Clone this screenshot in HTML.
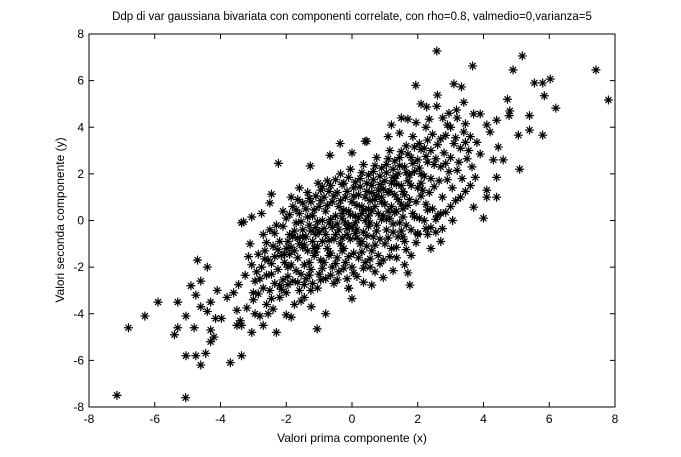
<!DOCTYPE html>
<html><head><meta charset="utf-8"><style>
body{margin:0;background:#fff}
svg{display:block;font-family:"Liberation Sans",Arial,sans-serif}
</style></head><body>
<svg id="chart" width="681" height="457" viewBox="0 0 681 457">
<rect x="0" y="0" width="681" height="457" fill="#fff"/>
<text x="352" y="20" text-anchor="middle" font-size="11.5">Ddp di var gaussiana bivariata con componenti correlate, con rho=0.8, valmedio=0,varianza=5</text>
<g id="ticks"></g>
<g id="marks"></g>
<rect x="89" y="34" width="526" height="373" fill="none" stroke="#000" stroke-width="1"/>
<text x="352" y="442" text-anchor="middle" font-size="12">Valori prima componente (x)</text>
<text x="0" y="0" transform="translate(64,220) rotate(-90)" text-anchor="middle" font-size="12">Valori seconda componente (y)</text>
</svg>
<script>
const xTicks=[-8,-6,-4,-2,0,2,4,6,8];
const yTicks=[-8,-6,-4,-2,0,2,4,6,8];
const outlierPoints=[[-7.15,-7.5],[-5.06,-7.6],[-6.8,-4.6],[-6.3,-4.1],[-5.9,-3.5],[-5.3,-3.5],[-5.05,-4.1],[-5.4,-4.9],[-5.3,-4.6],[-4.8,-4.6],[-5.05,-5.8],[-4.75,-5.8],[-4.6,-6.2],[-4.45,-5.7],[-4.3,-5.2],[-4.2,-5.0],[-4.3,-4.7],[-4.4,-3.9],[-4.6,-3.7],[-4.3,-3.5],[-4.75,-3.2],[-4.9,-2.8],[-4.7,-1.7],[-4.4,-2.0],[-4.6,-2.6],[-4.15,-4.2],[-3.97,-4.2],[-4.1,-3.0],[-3.8,-3.3],[-3.5,-4.5],[-3.36,-4.5],[-3.05,-4.8],[-2.7,-4.5],[-2.3,-4.8],[-1.06,-4.65],[-3.36,-0.1],[-3.5,-3.85],[-3.4,-4.3],[-2.8,-4.1],[-2.55,-4.0],[-2.0,-4.05],[-1.85,-4.15],[-1.24,-3.7],[-0.8,-4.0],[0.0,-3.35],[-0.1,-2.9],[-3.36,-5.8],[-3.7,-6.1],
[2.58,7.27],[5.18,7.06],[3.67,6.63],[4.9,6.46],[7.42,6.46],[7.8,5.17],[1.94,5.8],[3.1,5.86],[3.33,5.73],[5.55,5.9],[5.8,5.9],[6.03,6.07],[5.85,5.35],[6.2,4.82],[2.6,5.38],[4.73,5.2],[2.1,5.0],[2.27,4.87],[2.58,4.9],[3.4,5.07],[3.18,4.74],[3.7,4.57],[3.9,4.57],[4.8,4.7],[4.78,4.5],[5.4,4.5],[4.4,4.3],[5.4,3.88],[5.06,3.66],[5.8,3.66],[5.1,2.2],[4.6,2.6],[4.4,1.0],[4.0,0.1],[1.5,4.4],[1.7,4.35],[1.2,4.1],[1.1,3.6],[2.76,4.4],[2.9,4.1],[4.1,4.1],[4.2,3.8],[4.45,3.15],[4.3,2.6],[4.4,1.85],[4.1,1.3],[4.1,1.0],[3.06,0.0],[2.6,0.2],[3.7,0.57],[0.45,3.4],[0.0,2.9],
[1.76,-2.77],[1.7,-2.25],[1.8,-1.5],[1.6,-1.9],[1.36,-1.6],[0.7,-2.2],[0.6,-2.77],[-0.1,-2.9],[2.7,-0.9],[2.0,-0.55],[2.3,-0.6],[2.55,-0.5],[1.55,-0.7],[-2.24,2.45],[-1.27,2.34],[-2.45,1.13],[-1.6,1.4],[-1.85,1.0],[-3.3,-0.06],[-0.36,3.3],[-0.67,2.8],[-1.03,1.6],[0.4,3.4]];
const corePoints=[[-3.0,-3.4],[-2.95,-2.6],[-3.05,-1.9],[-2.9,-2.2],[-3.1,-1.0],[-3.0,-3.1],
[-2.7,-2.9],[-2.75,-2.0],[-2.65,-1.3],[-2.7,-0.6],[-2.8,-2.5],[-2.6,-3.6],
[-2.5,-3.0],[-2.45,-2.3],[-2.55,-1.7],[-2.4,-1.1],[-2.5,-0.4],[-2.35,-2.7],
[-2.2,-2.8],[-2.25,-2.1],[-2.15,-1.5],[-2.2,-0.9],[-2.3,-0.2],[-2.1,0.4],[-2.2,-3.3],
[-2.0,-3.1],[-1.95,-2.4],[-2.05,-1.8],[-2.0,-1.2],[-1.9,-0.6],[-2.0,0.1],[-1.95,-2.0],
[-1.8,-2.6],[-1.85,-1.9],[-1.75,-1.3],[-1.8,-0.7],[-1.7,-0.1],[-1.8,0.6],[-1.75,-3.6],
[-1.6,-3.0],[-1.55,-2.3],[-1.65,-1.6],[-1.6,-1.0],[-1.5,-0.4],[-1.6,0.3],[-1.65,0.9],
[-1.4,-2.5],[-1.45,-1.9],[-1.35,-1.3],[-1.4,-0.7],[-1.3,-0.2],[-1.4,0.5],[-1.45,-3.3],[-1.35,1.2],
[-1.2,-2.7],[-1.25,-2.1],[-1.15,-1.5],[-1.2,-0.9],[-1.1,-0.3],[-1.2,0.2],[-1.25,0.8],[-1.15,-1.2],
[-1.0,-2.3],[-0.95,-1.7],[-1.05,-1.1],[-1.0,-0.5],[-0.9,0.0],[-1.0,0.6],[-0.95,1.3],[-1.05,-2.9],
[-0.8,-2.5],[-0.85,-1.8],[-0.75,-1.2],[-0.8,-0.6],[-0.7,-0.1],[-0.8,0.4],[-0.85,1.0],[-0.75,1.7],
[-0.6,-2.0],[-0.65,-1.4],[-0.55,-0.8],[-0.6,-0.3],[-0.5,0.2],[-0.6,0.8],[-0.65,1.5],[-0.55,-2.7],
[-0.4,-2.2],[-0.45,-1.6],[-0.35,-1.0],[-0.4,-0.4],[-0.3,0.1],[-0.4,0.6],[-0.45,1.2],[-0.35,2.0],
[-0.2,-1.8],[-0.25,-1.2],[-0.15,-0.6],[-0.2,-0.1],[-0.1,0.4],[-0.2,1.0],[-0.25,1.6],[-0.15,-2.5],
[0.0,-2.0],[0.05,-1.4],[-0.05,-0.8],[0.0,-0.3],[0.1,0.2],[0.0,0.8],[0.05,1.4],[-0.05,2.2],
[0.2,-1.6],[0.25,-1.0],[0.15,-0.4],[0.2,0.1],[0.3,0.6],[0.2,1.1],[0.25,1.8],[0.15,-2.4],
[0.4,-1.8],[0.45,-1.1],[0.35,-0.5],[0.4,0.0],[0.5,0.5],[0.4,1.0],[0.45,1.6],[0.35,2.4],
[0.6,-1.3],[0.65,-0.7],[0.55,-0.1],[0.6,0.4],[0.7,0.9],[0.6,1.5],[0.65,2.1],[0.55,-2.0],
[0.8,-1.5],[0.85,-0.8],[0.75,-0.2],[0.8,0.3],[0.9,0.8],[0.8,1.3],[0.85,1.9],[0.75,2.7],
[1.0,-1.0],[1.05,-0.4],[0.95,0.2],[1.0,0.7],[1.1,1.2],[1.0,1.7],[1.05,2.4],[0.95,-1.7],
[1.2,-1.2],[1.25,-0.5],[1.15,0.1],[1.2,0.6],[1.3,1.1],[1.2,1.6],[1.25,2.2],[1.15,3.0],
[1.4,-0.7],[1.45,-0.1],[1.35,0.4],[1.4,0.9],[1.5,1.5],[1.4,2.0],[1.45,2.7],
[1.6,-0.9],[1.65,-0.2],[1.55,0.5],[1.6,1.1],[1.7,1.7],[1.6,2.3],[1.65,3.2],
[1.8,-0.4],[1.85,0.3],[1.75,0.9],[1.8,1.5],[1.9,2.1],[1.8,2.7],[1.85,3.6],
[2.0,-0.6],[2.05,0.1],[1.95,0.8],[2.0,1.4],[2.1,2.0],[2.0,2.6],[2.05,3.3],
[2.2,0.0],[2.25,0.7],[2.15,1.3],[2.2,1.9],[2.3,2.5],[2.2,3.1],[2.25,4.0],
[2.4,-0.3],[2.45,0.5],[2.35,1.2],[2.4,1.8],[2.5,2.4],[2.4,3.0],[2.45,3.7],
[2.7,0.3],[2.75,1.0],[2.65,1.7],[2.7,2.3],[2.8,2.9],[2.7,3.5],
[3.0,0.6],[3.05,1.4],[2.95,2.1],[3.0,2.7],[3.1,3.3],[3.0,4.0],
[3.3,1.0],[3.35,1.8],[3.25,2.5],[3.3,3.1],[3.4,3.8],
[3.6,1.5],[3.65,2.3],[3.55,3.0],[3.6,3.6],
[-0.5,-0.6],[0.3,0.3],[-0.1,-0.2],[0.7,0.6],[-0.9,-0.9],[0.1,-0.1],[0.5,0.2],[-0.3,0.3],[1.1,0.4],[-1.1,-0.6],[0.9,1.0],[-0.7,-1.5],[1.3,1.8],[-1.3,-1.8],[0.3,-0.9],[-0.3,-1.3],[0.6,1.2],[1.5,0.7],[-1.5,-0.7],[2.1,1.6]];
const fillPoints=[[-2.85,-3.15],[-2.6,-2.35],[-2.35,-1.55],[-2.1,-2.55],[-1.9,-1.45],[-1.7,-2.15],[-1.5,-1.15],[-1.3,-2.35],[-1.1,-1.35],[-0.9,-2.05],[-0.7,-0.85],[-0.5,-1.85],[-0.3,-0.75],[-0.1,-1.55],[0.1,-0.55],[0.3,-1.35],[0.5,-0.25],[0.7,-1.05],[0.9,0.05],[1.1,-0.75],[1.3,0.35],[1.5,-0.45],[1.7,0.65],[1.9,0.15],[2.1,1.05],[2.3,0.45],[2.5,1.45],[2.9,1.75],[3.2,2.15],[3.5,2.65],
[-2.85,-1.45],[-2.6,-0.95],[-2.35,-0.55],[-2.1,-0.25],[-1.9,0.25],[-1.7,0.45],[-1.5,0.75],[-1.3,0.95],[-1.1,1.05],[-0.9,1.45],[-0.7,1.25],[-0.5,1.75],[-0.3,1.55],[-0.1,1.85],[0.1,1.65],[0.3,2.05],[0.5,1.95],[0.7,2.35],[0.9,2.25],[1.1,2.65],[1.3,2.55],[1.5,2.95],[1.7,2.85],[1.9,3.15],[2.1,3.05],[2.3,3.45],[2.6,3.25],[2.85,3.65],[3.15,3.55],[3.45,4.15],
[-1.95,-0.9],[-1.75,-0.45],[-1.55,-0.05],[-1.35,0.15],[-1.15,0.45],[-0.95,0.85],[-0.75,0.65],[-0.55,1.05],[-0.35,0.85],[-0.15,1.25],[0.05,1.05],[0.25,1.45],[0.45,1.25],[0.65,1.75],[0.85,1.55],[1.05,2.05],[1.25,1.85],[1.45,2.35],[1.65,2.05],[1.85,2.45],[2.05,2.25],[2.25,2.75],[2.55,2.65],[2.85,2.45],
[-2.45,-3.35],[-2.15,-2.95],[-1.95,-2.75],[-1.65,-2.65],[-1.45,-2.75],[-1.25,-3.0],[-0.95,-2.55],[-0.65,-2.35],[-0.45,-2.55],[-0.25,-2.05],[0.05,-2.25],[0.35,-2.05],[0.55,-1.65],[0.85,-1.85],[1.15,-1.55],[1.35,-1.15],[1.65,-1.25],[1.95,-0.95],[2.25,-0.35],[2.55,0.05],[2.85,0.35],[3.15,0.85],[3.45,1.25],[3.75,1.85],
[-1.05,-0.05],[-0.85,-0.35],[-0.65,0.05],[-0.45,-0.15],[-0.25,0.45],[-0.05,0.25],[0.15,0.65],[0.35,0.45],[0.55,0.85],[0.75,1.05],[0.95,1.35],[1.15,1.25],[1.35,1.55],[1.55,1.25],[1.75,1.95],[-1.25,-0.45],[-1.45,-1.05],[-1.65,-0.75],[-1.85,-1.15],[-2.05,-1.45],[-2.25,-1.25],[-2.45,-1.85],[-2.65,-1.65],[-0.15,-0.35],[0.15,-0.75],[0.45,-0.65],[0.75,-0.45],[1.05,0.05],[1.25,-0.15],[1.55,0.15],
[-3.25,-2.35],[-3.15,-1.55],[-3.45,-2.75],[-3.6,-3.1],[-3.2,-3.75],[-2.95,-4.0],[-2.4,-3.8],[-1.55,-3.45],[3.9,2.85],[3.8,3.35],[3.45,3.35],[3.2,4.4],[2.95,4.6],[2.35,4.35],[1.95,4.2],[1.45,3.75],[-2.75,0.3],[-2.5,0.75],[-3.05,0.15],[0.95,-2.45],[1.25,-2.15],[0.35,-2.65],[2.4,-1.2],[2.75,-0.35]];
const xMin=-8,xMax=8,yMin=-8,yMax=8,L=89,R=615,T=34,B=407;
function sx(v){return L+(v-xMin)/(xMax-xMin)*(R-L);}
function sy(v){return B-(v-yMin)/(yMax-yMin)*(B-T);}
const NS='http://www.w3.org/2000/svg';
const tg=document.getElementById('ticks');
xTicks.forEach(t=>{
  const x=sx(t);
  const p=document.createElementNS(NS,'path');
  p.setAttribute('d',`M${x},${B}v-5M${x},${T}v5`);
  p.setAttribute('stroke','#000');
  
  
  tg.appendChild(p);
  const tx=document.createElementNS(NS,'text');
  tx.setAttribute('x',x);tx.setAttribute('y',B+16);
  tx.setAttribute('text-anchor','middle');tx.setAttribute('font-size','12');
  
  
  tx.textContent=t;tg.appendChild(tx);
});
yTicks.forEach(t=>{
  const y=sy(t);
  const p=document.createElementNS(NS,'path');
  p.setAttribute('d',`M${L},${y}h5M${R},${y}h-5`);
  p.setAttribute('stroke','#000');
  
  
  tg.appendChild(p);
  const tx=document.createElementNS(NS,'text');
  tx.setAttribute('x',L-5);tx.setAttribute('y',y+4);
  tx.setAttribute('text-anchor','end');tx.setAttribute('font-size','12');
  
  
  tx.textContent=t;tg.appendChild(tx);
});
const mg=document.getElementById('marks');
outlierPoints.concat(corePoints,fillPoints).forEach(pt=>{
  const x=sx(pt[0]),y=sy(pt[1]);
  const p=document.createElementNS(NS,'path');
  p.setAttribute('d',`M${x-4.5},${y}h9M${x},${y-4.5}v9M${x-3},${y-3}l6,6M${x-3},${y+3}l6,-6`);
  p.setAttribute('stroke','#000');
  p.setAttribute('stroke-width','1.2');
  
  
  mg.appendChild(p);
});
</script>
</body></html>
